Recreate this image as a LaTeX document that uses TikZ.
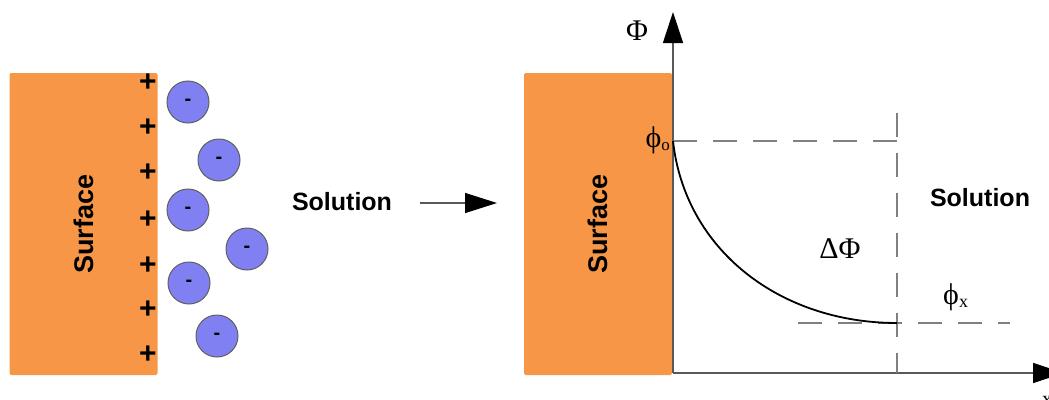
\documentclass[tikz,border=0pt]{standalone}
\usepackage{fontspec}
\setmainfont{Liberation Sans}
\newfontfamily\serifgr{Liberation Serif}
\usetikzlibrary{arrows.meta}
\definecolor{surf}{HTML}{F79646}
\definecolor{ionfill}{HTML}{8080F2}
\begin{document}
\begin{tikzpicture}[x=1pt,y=-1pt,
  surfbox/.style={rotate=90, fill=surf, draw=none, rounded corners=2pt, minimum width=302pt, minimum height=148pt, inner sep=0pt, font=\bfseries\fontsize{27}{27}\selectfont},
  ion/.style={circle, fill=ionfill, draw=gray!75!black, line width=1pt, minimum size=42pt, inner sep=0pt, font=\bfseries\fontsize{20}{20}\selectfont},
  plussign/.style={font=\bfseries\fontsize{30}{30}\selectfont, inner sep=0pt},
  lbl/.style={font=\bfseries\fontsize{25}{25}\selectfont, inner sep=0pt},
  greek/.style={font=\serifgr\fontsize{30}{30}\selectfont, inner sep=0pt},
  axisline/.style={draw=gray!70!black, line width=1.2pt, -{Triangle[length=31pt,width=20pt,color=black]}},
  guide/.style={draw=gray, line width=1.5pt, dash pattern=on 24pt off 16pt},
  curveline/.style={draw=black, line width=1.8pt}]
\useasboundingbox (0,0) rectangle (1049,399);

% left panel
\node[surfbox] (surfL) at (83.5,224) {Surface};
\foreach \i/\yy in {1/83,2/128,3/173,4/220,5/266,6/310,7/355}
  \node[plussign] (plus\i) at (148,\yy) {+};
\node[ion] (ion1) at (188,102) {-};
\node[ion] (ion2) at (219,160) {-};
\node[ion] (ion3) at (188,210) {-};
\node[ion] (ion4) at (247,249) {-};
\node[ion] (ion5) at (189,283) {-};
\node[ion] (ion6) at (217,336) {-};
\node[lbl] (solL) at (342,202) {Solution};

% middle arrow
\coordinate (arrS) at (420,203);
\coordinate (arrE) at (497,203);
\draw[draw=gray!70!black, line width=1.2pt, -{Triangle[length=32pt,width=20pt,color=black]}] (arrS) -- (arrE);

% right panel
\node[surfbox] (surfR) at (598,224) {Surface};
\coordinate (O) at (673,373);
\coordinate (ytop) at (673,12);
\coordinate (xend) at (1064,373);
\draw[axisline] (O) -- (ytop);
\draw[axisline] (O) -- (xend);

\coordinate (p0) at (673,141);
\coordinate (p0end) at (897,141);
\coordinate (vtop) at (897,113);
\coordinate (vbot) at (897,373);
\coordinate (px) at (897,323);
\coordinate (hxS) at (798,323);
\coordinate (hxE) at (1010,323);
\draw[guide] (p0) -- (p0end);
\draw[guide] (vtop) -- (vbot);
\draw[guide] (hxS) -- (hxE);
\draw[curveline] (p0) .. controls (685,250) and (780,323) .. (px);

\node[greek] (Phi) at (637,31) {Φ};
\node[greek, anchor=base east] (phio) at (670,147) {ϕ\raisebox{-3pt}{\fontsize{17}{17}\selectfont o}};
\node[greek] (dPhi) at (840,249) {ΔΦ};
\node[greek, anchor=base west] (phix) at (943,304) {ϕ\raisebox{-3pt}{\fontsize{18}{18}\selectfont x}};
\node[lbl] (solR) at (980,198) {Solution};
\node[font=\serifgr\fontsize{20}{20}\selectfont, inner sep=0pt] (xlab) at (1047,401) {x};
\end{tikzpicture}
\end{document}
